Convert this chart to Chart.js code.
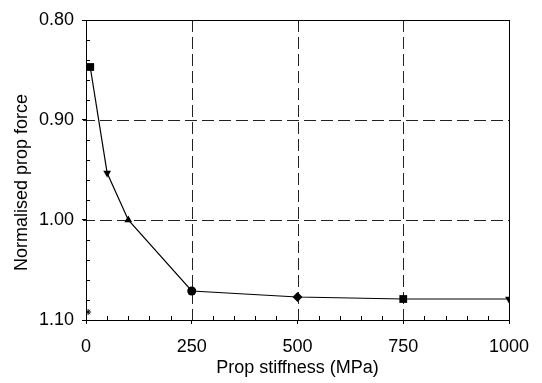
<!DOCTYPE html>
<html>
<head>
<meta charset="utf-8">
<script src="https://cdn.jsdelivr.net/npm/chart.js@4/dist/chart.umd.min.js"></script>
<style>
html,body{margin:0;padding:0;background:#fff;}
#wrap{width:542px;height:383px;position:relative;}
</style>
</head>
<body>
<div id="wrap"><canvas id="c" width="542" height="383"></canvas></div>
<script>
// Data
const stiffness = [10, 50, 100, 250, 500, 750, 1000];
const propForce = [0.847, 0.953, 1.000, 1.071, 1.077, 1.079, 1.079];
const strayStiffness = [5];
const strayForce = [1.092];
const xTicks = [0, 250, 500, 750, 1000];
const yTicks = [0.80, 0.90, 1.00, 1.10];
const xGridLines = [250, 500, 750];
const yGridLines = [0.90, 1.00];
const xMinorTicks = [50,100,150,200,300,350,400,450,550,600,650,700,800,850,900,950];
const yMinorTicks = [0.82,0.84,0.86,0.88,0.92,0.94,0.96,0.98,1.02,1.04,1.06,1.08];

const markerStyles = ['rect','triangle','triangle','circle','rectRot','rect','triangle'];
const markerRot = [0,180,0,0,0,0,180];
const markerRadius = [5.5,4.5,4.5,4.5,5,5.5,4.5];

const FONT = "'Liberation Sans', Arial, sans-serif";

const framePlugin = {
  id: 'frame',
  beforeDatasetsDraw(chart) {
    const {ctx, chartArea: a, scales} = chart;
    ctx.save();
    ctx.strokeStyle = '#222';
    ctx.lineWidth = 1;
    ctx.setLineDash([12, 5]);
    ctx.beginPath();
    xGridLines.forEach(v => {
      const px = Math.round(scales.x.getPixelForValue(v)) + 0.5;
      ctx.moveTo(px, a.top); ctx.lineTo(px, a.bottom + 3);
    });
    yGridLines.forEach(v => {
      const py = Math.round(scales.y.getPixelForValue(v)) + 0.5;
      ctx.moveTo(a.left - 3, py); ctx.lineTo(a.right, py);
    });
    ctx.stroke();
    ctx.restore();
  },
  afterDatasetsDraw(chart) {
    const {ctx, chartArea: a, scales} = chart;
    ctx.save();
    ctx.strokeStyle = '#000';
    ctx.lineWidth = 1;
    ctx.setLineDash([]);
    ctx.strokeRect(Math.round(a.left)+0.5, Math.round(a.top)+0.5, Math.round(a.right-a.left), Math.round(a.bottom-a.top));
    ctx.beginPath();
    xMinorTicks.forEach(v => {
      const px = Math.round(scales.x.getPixelForValue(v)) + 0.5;
      ctx.moveTo(px, a.bottom); ctx.lineTo(px, a.bottom - 4);
    });
    yMinorTicks.forEach(v => {
      const py = Math.round(scales.y.getPixelForValue(v)) + 0.5;
      ctx.moveTo(a.left, py); ctx.lineTo(a.left + 4, py);
    });
    ctx.stroke();
    ctx.restore();
  }
};

new Chart(document.getElementById('c'), {
  type: 'scatter',
  data: {
    datasets: [{
      data: stiffness.map((x, i) => ({x, y: propForce[i]})),
      showLine: true,
      borderColor: '#000',
      borderWidth: 1.2,
      backgroundColor: '#000',
      pointBackgroundColor: '#000',
      pointBorderColor: '#000',
      pointStyle: markerStyles,
      rotation: markerRot,
      pointRadius: markerRadius,
      pointBorderWidth: 0,
      tension: 0
    }, {
      data: strayStiffness.map((x, i) => ({x, y: strayForce[i]})),
      showLine: false,
      pointStyle: 'star',
      pointRadius: 3,
      pointBorderColor: '#000',
      pointBorderWidth: 1
    }]
  },
  options: {
    responsive: false,
    animation: false,
    devicePixelRatio: 1,
    layout: {padding: {top: 20, right: 33, left: 0, bottom: 0}},
    plugins: {legend: {display: false}, tooltip: {enabled: false}},
    scales: {
      x: {
        type: 'linear',
        min: 0, max: 1000,
        afterFit(s) { s.height = 63; },
        afterBuildTicks(s) { s.ticks = xTicks.map(v => ({value: v})); },
        ticks: {color: '#000', font: {family: FONT, size: 18}, padding: 12, maxRotation: 0, callback: v => String(v)},
        grid: {drawOnChartArea: false, tickColor: '#000', tickLength: 4, lineWidth: 1},
        border: {display: false},
        title: {display: true, text: 'Prop stiffness (MPa)', color: '#000', font: {family: FONT, size: 18}, padding: {top: 0, bottom: 4}}
      },
      y: {
        type: 'linear',
        reverse: true,
        min: 0.80, max: 1.10,
        afterFit(s) { s.width = 86; },
        afterBuildTicks(s) { s.ticks = yTicks.map(v => ({value: v})); },
        ticks: {color: '#000', font: {family: FONT, size: 18}, padding: 8, callback: v => v.toFixed(2)},
        grid: {drawOnChartArea: false, tickColor: '#000', tickLength: 4, lineWidth: 1},
        border: {display: false},
        title: {display: true, text: 'Normalised prop force     ', color: '#000', font: {family: FONT, size: 18}, padding: {top: 11, bottom: 0}}
      }
    }
  },
  plugins: [framePlugin]
});
</script>
</body>
</html>
